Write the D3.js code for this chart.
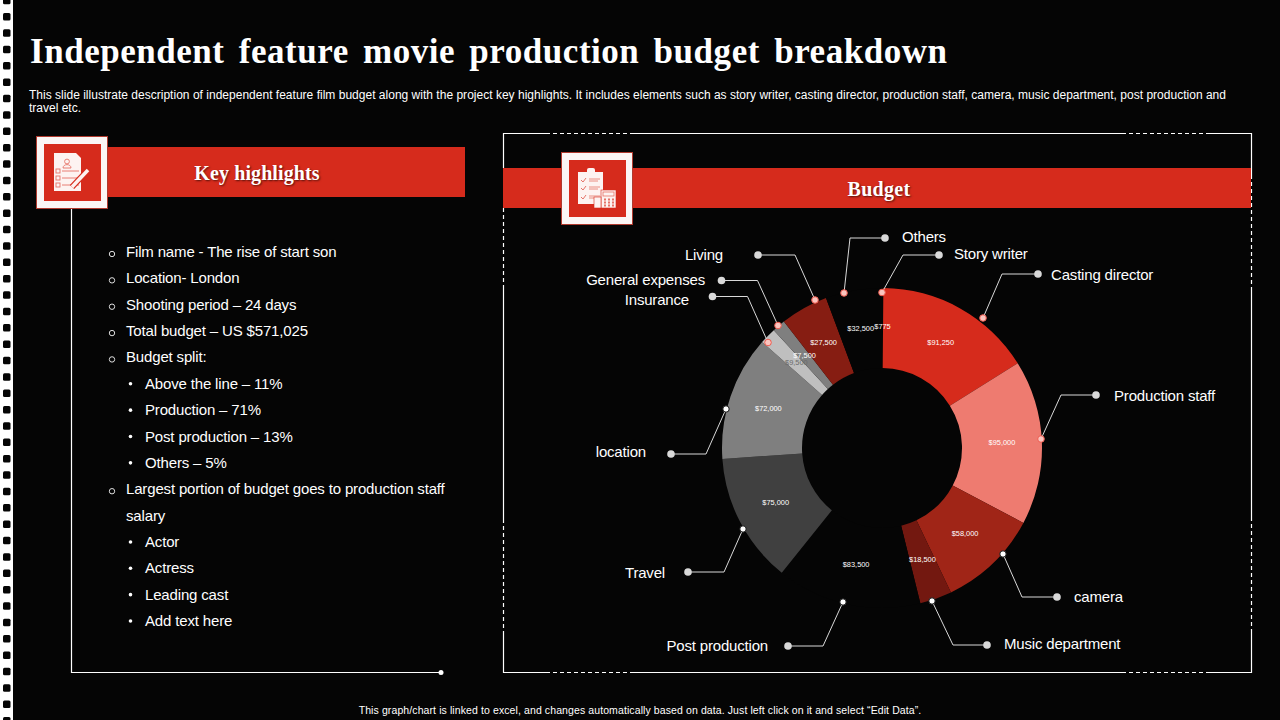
<!DOCTYPE html>
<html>
<head>
<meta charset="utf-8">
<script src="https://cdn.jsdelivr.net/npm/d3@7"></script>
<style>
  html, body { margin: 0; padding: 0; background: #050505; }
  svg { display: block; }
  text { font-family: "Liberation Sans", Arial, sans-serif; fill: #fff; }
  .serif { font-family: "Liberation Serif", "Times New Roman", serif; font-weight: bold; }
</style>
</head>
<body>
<svg id="chart" width="1280" height="720"></svg>
<script>
// budget split
var categories = ["Story writer", "Casting director", "Production staff", "camera", "Music department",
  "Post production", "Travel", "location", "Insurance", "General expenses", "Living", "Others"];
var amounts = [775, 91250, 95000, 58000, 18500, 83500, 75000, 72000, 9500, 7500, 27500, 32500];
var sliceColors = ["#050505", "#D62B1C", "#EE7B70", "#A02517", "#731810", "#050505",
  "#404040", "#7F7F7F", "#BFBFBF", "#7F7F7F", "#861D12", "#050505"];
var amountColors = ["#fff", "#fff", "#fff", "#fff", "#fff", "#fff", "#fff", "#fff", "#6b6b6b", "#fff", "#fff", "#fff"];

var highlights = [
  ["o", "Film name - The rise of start son"],
  ["o", "Location- London"],
  ["o", "Shooting period \u2013 24 days"],
  ["o", "Total budget \u2013 US $571,025"],
  ["o", "Budget split:"],
  ["b", "Above the line \u2013 11%"],
  ["b", "Production \u2013 71%"],
  ["b", "Post production \u2013 13%"],
  ["b", "Others \u2013 5%"],
  ["o", "Largest portion of budget goes to production staff"],
  ["", "salary"],
  ["b", "Actor"],
  ["b", "Actress"],
  ["b", "Leading cast"],
  ["b", "Add text here"]
];

// leader lines: [name, pie dot, knee, end dot, label x, label y, anchor, pink dot?]
var callouts = [
  ["Others", [844, 293], [850, 238], [885, 238], 902, 237, "start", true],
  ["Story writer", [882, 292.5], [903, 255], [939, 255], 954, 254, "start", true],
  ["Casting director", [983, 318], [1002, 274], [1038, 274], 1051, 275, "start", true],
  ["Production staff", [1041, 439], [1061, 395], [1096, 395], 1114, 396, "start", true],
  ["camera", [1003, 554], [1022, 597], [1057, 597], 1074, 597, "start", false],
  ["Music department", [932, 601], [953, 645], [987, 645], 1004, 644, "start", false],
  ["Post production", [843, 602], [823, 646], [788, 646], 768, 646, "end", false],
  ["Travel", [743, 529], [724, 572], [688, 572], 665, 573, "end", false],
  ["location", [726, 409], [706, 454], [671, 454], 646, 452, "end", false],
  ["Insurance", [768, 342.5], [747.5, 296.5], [712.5, 296.5], 689, 300, "end", true],
  ["General expenses", [778, 325.5], [757.5, 280.5], [721.5, 280.5], 705, 280, "end", true],
  ["Living", [815, 300], [795, 255], [758, 255], 723, 255, "end", true]
];

var svg = d3.select("#chart");
var RED = "#D62B1C";

svg.append("rect").attr("width", 1280).attr("height", 720).attr("fill", "#050505");

// film strip down the left edge
svg.append("rect").attr("width", 13).attr("height", 720).attr("fill", "#fff");
d3.range(-1, 44).forEach(function (i) {
  svg.append("rect")
    .attr("x", 3).attr("y", 13 + i * 16.37)
    .attr("width", 7.5).attr("height", 7.5).attr("rx", 1.5)
    .attr("fill", "#050505");
});

svg.append("text").attr("class", "serif")
  .attr("x", 30).attr("y", 63)
  .attr("font-size", 35).attr("letter-spacing", 0.53).attr("word-spacing", 5)
  .text("Independent feature movie production budget breakdown");

var desc = svg.append("g").attr("font-size", 12);
desc.append("text").attr("x", 29).attr("y", 99).attr("letter-spacing", 0.014)
  .text("This slide illustrate description of independent feature film budget along with the project key highlights. It includes elements such as story writer, casting director, production staff, camera, music department, post production and");
desc.append("text").attr("x", 29).attr("y", 112).text("travel etc.");

// left panel
svg.append("rect").attr("x", 71).attr("y", 147).attr("width", 394).attr("height", 50).attr("fill", RED);
svg.append("path").attr("d", "M71.5,208V672.5H441").attr("fill", "none").attr("stroke", "#fff").attr("stroke-width", 1.2);
svg.append("circle").attr("cx", 441).attr("cy", 672.5).attr("r", 2.5).attr("fill", "#fff");
svg.append("text").attr("class", "serif").attr("x", 257).attr("y", 180)
  .attr("text-anchor", "middle").attr("font-size", 20).attr("letter-spacing", 0.1)
  .style("text-shadow", "1px 1px 2px rgba(0,0,0,.6)").text("Key highlights");

var listY = d3.scaleLinear().domain([0, highlights.length - 1]).range([257, 626]);
highlights.forEach(function (row, i) {
  var sub = row[0] === "b";
  if (row[0] === "o") {
    svg.append("circle").attr("cx", 112).attr("cy", listY(i) - 3).attr("r", 2.7)
      .attr("fill", "none").attr("stroke", "#ddd").attr("stroke-width", 1);
  } else if (sub) {
    svg.append("circle").attr("cx", 130.5).attr("cy", listY(i) - 5).attr("r", 1.8).attr("fill", "#fff");
  }
  svg.append("text").attr("x", sub ? 145 : 126).attr("y", listY(i))
    .attr("font-size", 15).attr("letter-spacing", -0.16).text(row[1]);
});

// right panel frame, solid with dashed stretches
var frameSolid = "M546,133.5H503.5V168M503.5,287V519M503.5,632V672.5H546M634,672.5H1122M1208,672.5H1251.5V632M1251.5,517V287M1251.5,175V133.5H1208M1122,133.5H634";
var frameDash = "M546,133.5H634M1122,133.5H1208M503.5,208V287M503.5,519V632M546,672.5H634M1122,672.5H1208M1251.5,175V287M1251.5,517V632";
svg.append("path").attr("d", frameSolid).attr("fill", "none").attr("stroke", "#fff").attr("stroke-width", 1.2);
svg.append("path").attr("d", frameDash).attr("fill", "none").attr("stroke", "#fff").attr("stroke-width", 1.2).attr("stroke-dasharray", "4 3");

svg.append("rect").attr("x", 503).attr("y", 168).attr("width", 748).attr("height", 40).attr("fill", RED);
svg.append("text").attr("class", "serif").attr("x", 879).attr("y", 196)
  .attr("text-anchor", "middle").attr("font-size", 20).attr("letter-spacing", 0.3)
  .style("text-shadow", "1px 1px 2px rgba(0,0,0,.6)").text("Budget");

// icon tiles
function tile(x, y) {
  var g = svg.append("g").attr("transform", "translate(" + x + "," + y + ")");
  g.append("rect").attr("x", 0.5).attr("y", 0.5).attr("width", 71).attr("height", 72)
    .attr("fill", "#fbf6f5").attr("stroke", "#B03A2E").attr("stroke-width", 1);
  g.append("rect").attr("x", 8).attr("y", 8).attr("width", 57).attr("height", 57).attr("fill", RED);
  return g;
}

var docIcon = tile(36, 136);
docIcon.append("path").attr("d", "M18,17H40L45,22V55H18Z").attr("fill", "#fdf3f1");
docIcon.append("circle").attr("cx", 31).attr("cy", 25.5).attr("r", 2.4).attr("fill", "none").attr("stroke", "#e57368").attr("stroke-width", 0.9);
docIcon.append("path").attr("d", "M27,32C27,27.5 35,27.5 35,32Z").attr("fill", "none").attr("stroke", "#e57368").attr("stroke-width", 0.9);
[35, 42, 49].forEach(function (y) {
  docIcon.append("rect").attr("x", 20).attr("y", y - 2).attr("width", 4).attr("height", 4).attr("fill", "none").attr("stroke", "#e57368").attr("stroke-width", 0.9);
  docIcon.append("path").attr("d", "M26," + y + "H43").attr("stroke", "#e57368").attr("stroke-width", 0.9);
});
docIcon.append("path").attr("d", "M36,51L52,34").attr("stroke", RED).attr("stroke-width", 6);
docIcon.append("path").attr("d", "M36,51L52,34").attr("stroke", "#fdf3f1").attr("stroke-width", 3.5);

var boardIcon = tile(561, 152);
boardIcon.append("rect").attr("x", 17).attr("y", 20).attr("width", 25).attr("height", 32).attr("fill", "#fdf3f1");
boardIcon.append("rect").attr("x", 26).attr("y", 16).attr("width", 8).attr("height", 6).attr("rx", 2).attr("fill", "#fdf3f1");
[28, 36, 45].forEach(function (y) {
  boardIcon.append("path").attr("d", "M20," + y + "l2,2l3,-4").attr("fill", "none").attr("stroke", "#e57368");
  boardIcon.append("path").attr("d", "M28," + (y - 1) + "H39M28," + (y + 1) + "H37").attr("stroke", "#e57368").attr("stroke-width", 0.8);
});
boardIcon.append("rect").attr("x", 40).attr("y", 38).attr("width", 15).attr("height", 18).attr("fill", "#fdf3f1").attr("stroke", RED).attr("stroke-width", 0.6);
boardIcon.append("rect").attr("x", 42).attr("y", 40).attr("width", 11).attr("height", 4).attr("fill", "none").attr("stroke", "#e57368").attr("stroke-width", 0.8);
[46.5, 49.5, 52.5].forEach(function (y) {
  [43, 47, 51].forEach(function (x) {
    boardIcon.append("rect").attr("x", x).attr("y", y).attr("width", 2).attr("height", 2).attr("fill", "#e57368");
  });
});
boardIcon.append("rect").attr("x", 33).attr("y", 45).attr("width", 7).attr("height", 11).attr("fill", "#fdf3f1").attr("stroke", RED).attr("stroke-width", 0.6);

// doughnut
var cx = 882, cy = 448;
var outer = 160, inner = 80;
var pie = d3.pie().sort(null).value(function (d) { return d; });
var arc = d3.arc().innerRadius(inner).outerRadius(outer);
var arcs = pie(amounts);
var donut = svg.append("g").attr("transform", "translate(" + cx + "," + cy + ")");

donut.selectAll("path").data(arcs).join("path")
  .attr("d", arc)
  .attr("fill", function (d, i) { return sliceColors[i]; });

donut.selectAll("text").data(arcs).join("text")
  .attr("transform", function (d) { return "translate(" + arc.centroid(d) + ")"; })
  .attr("text-anchor", "middle").attr("dy", "0.2em")
  .attr("font-size", 7.4)
  .style("fill", function (d, i) { return amountColors[i]; })
  .text(function (d) { return "$" + d3.format(",")(d.value); });

// callouts
var leader = d3.line();
callouts.forEach(function (c) {
  svg.append("path").attr("d", leader([c[1], c[2], c[3]]))
    .attr("fill", "none").attr("stroke", "#d9d9d9").attr("stroke-width", 1);
  svg.append("circle").attr("cx", c[3][0]).attr("cy", c[3][1]).attr("r", 3.8).attr("fill", "#d9d9d9");
  svg.append("circle").attr("cx", c[1][0]).attr("cy", c[1][1]).attr("r", c[7] ? 3.3 : 3.2)
    .attr("fill", c[7] ? "#fbc5bf" : "#fff")
    .attr("stroke", c[7] ? "#EE5A4E" : "#111").attr("stroke-width", 1);
  svg.append("text").attr("x", c[4]).attr("y", c[5]).attr("dy", "0.35em")
    .attr("text-anchor", c[6]).attr("font-size", 15).attr("letter-spacing", -0.18).text(c[0]);
});

svg.append("text").attr("x", 640).attr("y", 714).attr("text-anchor", "middle")
  .attr("font-size", 10.5).attr("letter-spacing", 0.1)
  .text("This graph/chart is linked to excel, and changes automatically based on data. Just left click on it and select \u201CEdit Data\u201D.");
</script>
</body>
</html>
